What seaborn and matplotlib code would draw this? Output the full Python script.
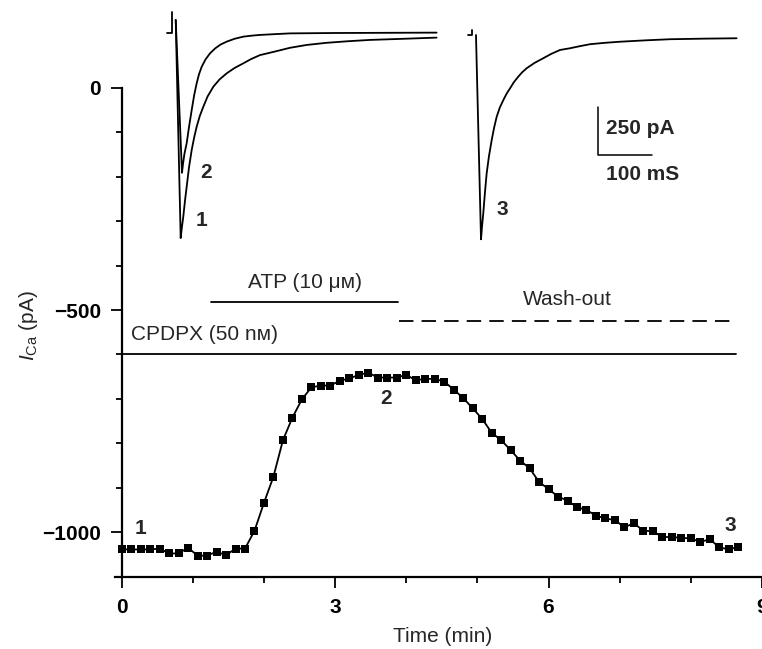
import numpy as np
import pandas as pd
import matplotlib
matplotlib.use("Agg")
import matplotlib.pyplot as plt
from matplotlib.ticker import MultipleLocator, FixedLocator
import seaborn as sns

# ---------------- data ----------------
sample_interval_min = 8 / 60.0
ica_pA = [-1039, -1039, -1039, -1039, -1037, -1048, -1048, -1035, -1053, -1053,
          -1044, -1052, -1037, -1037, -997, -934, -875, -793, -742, -701,
          -674, -670, -670, -659, -654, -646, -641, -652, -652, -652,
          -646, -658, -655, -655, -661, -679, -698, -721, -745, -776,
          -793, -815, -839, -856, -887, -903, -920, -929, -944, -950,
          -963, -969, -973, -989, -980, -997, -998, -1011, -1011, -1013,
          -1014, -1022, -1016, -1034, -1039, -1033]
time_min = np.arange(len(ica_pA)) * sample_interval_min

point_labels = ["1", "2", "3"]
point_label_t = [0.27, 3.72, 8.55]
point_label_i = [-991, -700, -986]

# treatment bars
treat_names = ["CPDPX (50 n\u1D0D)", "ATP (10 \u03bc\u1D0D)", "Wash-out"]
treat_start = [0.0, 1.25, 3.90]
treat_end = [8.64, 3.88, 8.64]
treat_level = [-600, -482, -525]
treat_text_t = [0.13, 2.57, 6.27]
treat_text_i = [-554, -439, -477]

# current traces (ms, pA)
trace1_t = [6.9, 16.1, 18.0, 20.9, 24.0, 27.2, 31.5, 36.5, 41.0, 45.7, 51.5, 58.0,
            66.0, 76.5, 88.0, 101.3, 116.0, 132, 147, 163, 181, 200, 218.5,
            250, 286.5, 325, 366.7, 430, 490]
trace1_i = [68, -1068, -1020, -957, -875, -801, -700, -609, -545, -488, -432, -384,
            -330, -280, -242, -210, -182, -158, -135, -115, -103, -90, -77,
            -62, -51, -43, -36, -30, -24]
trace2_t = [6.9, 18.5, 20.5, 23.0, 27.2, 31.5, 36.5, 41.0, 45.7, 50.0, 55, 62.0,
            70.4, 80.0, 90.0, 101.3, 116.0, 132, 147, 163, 190, 218.5, 300, 400, 490]
trace2_i = [68, -728, -680, -630, -574, -490, -401, -325, -262, -215, -176, -138,
            -106, -80, -60, -45, -30, -19, -14, -10, -6, -2, 0, 1, 2]
trace3_t = [7.4, 16.7, 18.5, 20.9, 24.0, 27.2, 31.5, 36.5, 41.0, 45.7, 51.5, 58, 64.0,
            70.4, 77.5, 85.7, 93.0, 101.3, 116.0, 132, 147, 163, 181.5, 200, 218.5,
            245, 274, 320, 366.7, 430, 490]
trace3_i = [0, -1064, -1000, -929, -820, -720, -630, -547, -482, -426, -378, -339, -306,
            -278, -246, -217, -194, -173, -145, -121, -98, -78, -69, -58, -48,
            -41, -35, -28, -22, -19, -17]
stepA_t = [-9.3, 0, 0]
stepA_i = [0, 0, 109]
stepB_t = [-7.4, 0, 0]
stepB_i = [0, 0, 26]

scalebar_t0, scalebar_i0 = 233, -625
scalebar_dt, scalebar_di = 100, 250

# ---------------- style ----------------
sns.set_theme(style="ticks")
plt.rcParams["font.family"] = ["Liberation Sans", "DejaVu Sans"]
plt.rcParams["mathtext.fontset"] = "custom"
plt.rcParams["mathtext.rm"] = "Liberation Sans"
plt.rcParams["mathtext.it"] = "Liberation Sans:italic"
plt.rcParams["mathtext.bf"] = "Liberation Sans:bold"

FS = 15
LW = 1.3
fig = plt.figure(figsize=(7.62, 6.49), dpi=100)
W, H = 762.0, 649.0

ax = fig.add_axes([115 / W, 1 - 577 / H, 647 / W, 577 / H])
ax.patch.set_alpha(0)
df = pd.DataFrame({"t": time_min, "i": ica_pA})
sns.lineplot(data=df, x="t", y="i", ax=ax, color="black", linewidth=LW,
             marker="s", markersize=6.0, markeredgewidth=0, estimator=None)
ax.set_xlim(-0.094, 9.0005)
ax.set_ylim(-1101, 198)

for s in ["top", "right"]:
    ax.spines[s].set_visible(False)
ax.spines["left"].set_position(("data", 0))
ax.spines["left"].set_bounds(-1101, 0)
for s in ["left", "bottom"]:
    ax.spines[s].set_linewidth(1.6)
    ax.spines[s].set_color("black")

ax.xaxis.set_major_locator(FixedLocator([0, 3, 6, 9]))
ax.xaxis.set_minor_locator(FixedLocator([1, 2, 4, 5, 7, 8]))
ax.yaxis.set_major_locator(FixedLocator([0, -500, -1000]))
ax.yaxis.set_minor_locator(FixedLocator(list(range(-1100, 1, 100))))
ax.tick_params(which="major", direction="out", length=8, width=1.3, color="black",
               labelsize=FS, pad=7, labelcolor="black")
ax.tick_params(which="minor", direction="out", length=4.5, width=1.3, color="black")
for lab in ax.get_xticklabels() + ax.get_yticklabels():
    lab.set_fontweight("bold")

ax.set_xlabel("Time (min)", fontsize=FS)
ax.set_ylabel(r"$I_{\mathrm{Ca}}$ (pA)", fontsize=FS)
ax.xaxis.set_label_coords((443 - 115) / 647, -(637 - 577) / 577)
ax.xaxis.label.set_va("center")
ax.yaxis.set_label_coords((28 - 115) / 647, 1 - 326 / 577)
ax.yaxis.label.set_va("center")

for lab, t, v in zip(point_labels, point_label_t, point_label_i):
    ax.text(t, v, lab, fontsize=FS, fontweight="bold", ha="center", va="center")

styles = ["-", "-", (0, (8.0, 4.5))]
for t0, t1, lvl, st in zip(treat_start, treat_end, treat_level, styles):
    ax.plot([t0, t1], [lvl, lvl], color="black", linewidth=LW, linestyle=st)
ax.text(treat_text_t[0], treat_text_i[0], treat_names[0], fontsize=FS, ha="left", va="center")
ax.text(treat_text_t[1], treat_text_i[1], treat_names[1], fontsize=FS, ha="center", va="center")
ax.text(treat_text_t[2], treat_text_i[2], treat_names[2], fontsize=FS, ha="center", va="center")

# ---------------- trace insets ----------------
axA = fig.add_axes([160 / W, 1 - 250 / H, 290 / W, 250 / H])
axA.axis("off")
for tt, ii in [(trace1_t, trace1_i), (trace2_t, trace2_i), (stepA_t, stepA_i)]:
    sns.lineplot(x=tt, y=ii, ax=axA, color="black", linewidth=LW, sort=False, estimator=None)
axA.set_xlim(-22.2, 514.8)
axA.set_ylim(-1130.2, 171.9)
axA.text(55, -974, "1", fontsize=FS, fontweight="bold", ha="center", va="center")
axA.text(63, -729, "2", fontsize=FS, fontweight="bold", ha="center", va="center")

axB = fig.add_axes([460 / W, 1 - 250 / H, 300 / W, 250 / H])
axB.axis("off")
for tt, ii in [(trace3_t, trace3_i), (stepB_t, stepB_i)]:
    sns.lineplot(x=tt, y=ii, ax=axB, color="black", linewidth=LW, sort=False, estimator=None)
axB.set_xlim(-22.2, 533.3)
axB.set_ylim(-1119.8, 182.3)
axB.text(57, -911, "3", fontsize=FS, fontweight="bold", ha="center", va="center")

# scale bar
axB.plot([scalebar_t0, scalebar_t0, scalebar_t0 + scalebar_dt],
         [scalebar_i0 + scalebar_di, scalebar_i0, scalebar_i0], color="black", linewidth=1.1)
axB.text(scalebar_t0 + 16, scalebar_i0 + 137, "250 pA", fontsize=FS, fontweight="bold",
         ha="left", va="center")
axB.text(scalebar_t0 + 16, scalebar_i0 - 104, "100 mS", fontsize=FS, fontweight="bold",
         ha="left", va="center")

fig.savefig("out.png", dpi=100)
